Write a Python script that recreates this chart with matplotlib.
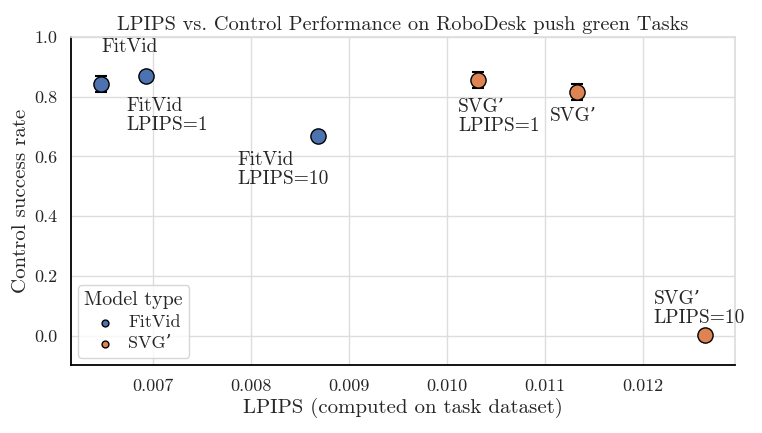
import matplotlib
matplotlib.use("Agg")
import matplotlib.pyplot as plt
import seaborn as sns

# data
labels = ["FitVid", "FitVid\nLPIPS=1", "FitVid\nLPIPS=10",
          "SVG\u2019\nLPIPS=1", "SVG\u2019", "SVG\u2019\nLPIPS=10"]
model_type = ["FitVid", "FitVid", "FitVid", "SVG'", "SVG'", "SVG'"]
lpips = [0.00647, 0.00693, 0.00868, 0.01031, 0.01132, 0.01263]
success = [0.842, 0.868, 0.668, 0.855, 0.815, 0.002]
success_err = [0.027, 0.0, 0.0, 0.027, 0.026, 0.0]

# label offsets in points (dx, dy) from each point, and vertical alignment
offsets = [(0, 20), (-14, -15), (-58, -11), (-14, -13), (-19, -11), (-37, 6)]
valign = ["bottom", "top", "top", "top", "top", "bottom"]

sns.set_theme(style="whitegrid")
plt.rcParams["font.family"] = ["cmr10", "DejaVu Serif"]
plt.rcParams["axes.formatter.use_mathtext"] = True
plt.rcParams["mathtext.fontset"] = "cm"

colors = {"FitVid": "#4C72B0", "SVG'": "#DD8452"}

fig, ax = plt.subplots(figsize=(7.62, 4.33), dpi=100)

for mt in ["FitVid", "SVG'"]:
    idx = [i for i, m in enumerate(model_type) if m == mt]
    xs = [lpips[i] for i in idx]
    ys = [success[i] for i in idx]
    es = [success_err[i] for i in idx]
    ax.errorbar(xs, ys, yerr=es, fmt="none", ecolor="black", capsize=4,
                elinewidth=1.2, capthick=1.5, zorder=2)
    ax.scatter(xs, ys, s=120, color=colors[mt], edgecolor="black",
               linewidth=1.0, zorder=3, label=mt.replace("'", "\u2019"))

for i, lab in enumerate(labels):
    ax.annotate(lab, (lpips[i], success[i]), xytext=offsets[i],
                textcoords="offset points", ha="left", va=valign[i],
                fontsize=14, linespacing=1.05)

ax.set_ylim(-0.097, 1.0)
ax.set_xlim(0.006163, 0.012939)
ax.set_xticks([0.007, 0.008, 0.009, 0.010, 0.011, 0.012])
ax.set_yticks([0.0, 0.2, 0.4, 0.6, 0.8, 1.0])
ax.set_xticklabels(["0.007", "0.008", "0.009", "0.010", "0.011", "0.012"])
ax.set_yticklabels(["0.0", "0.2", "0.4", "0.6", "0.8", "1.0"])
ax.tick_params(labelsize=13)

ax.set_xlabel("LPIPS (computed on task dataset)", fontsize=15, labelpad=3)
ax.set_ylabel("Control success rate", fontsize=15, labelpad=3)
ax.set_title("LPIPS vs. Control Performance on RoboDesk push green Tasks",
             fontsize=14.7, pad=5)

ax.grid(True, color="#dddddd", linewidth=1.0)
for side in ["left", "bottom"]:
    ax.spines[side].set_color("black")
    ax.spines[side].set_linewidth(1.3)
for side in ["top", "right"]:
    ax.spines[side].set_color("#dddddd")

leg = ax.legend(title="Model type", loc="lower left", fontsize=13,
                title_fontsize=14.4, markerscale=0.45, handletextpad=0.3,
                borderpad=0.35, labelspacing=0.3, borderaxespad=0.4)

fig.subplots_adjust(left=0.093, right=0.965, top=0.915, bottom=0.157)
fig.savefig("out.png", dpi=100)
